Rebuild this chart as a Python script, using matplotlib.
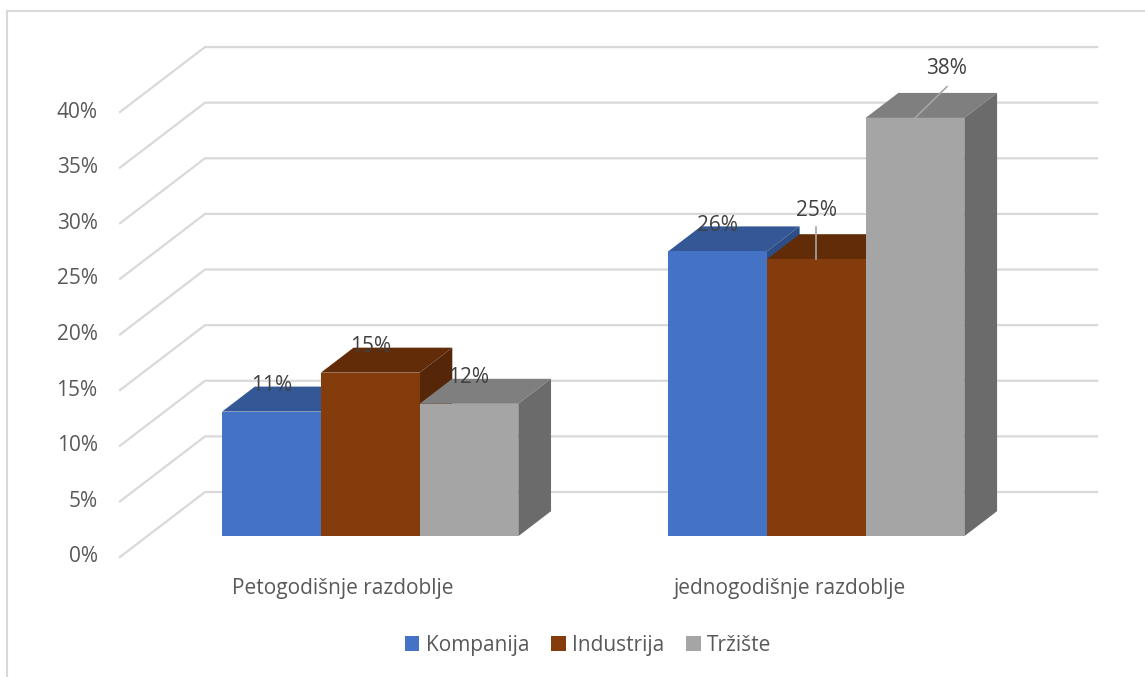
import matplotlib.pyplot as plt
from matplotlib.patches import Polygon, Patch
from matplotlib.lines import Line2D

plt.rcParams['font.family'] = ['Open Sans', 'DejaVu Sans']

# data
categories = ["Petogodišnje razdoblje", "jednogodišnje razdoblje"]
series = ["Kompanija", "Industrija", "Tržište"]
values = [
    [0.112, 0.256],   # Kompanija
    [0.147, 0.249],   # Industrija
    [0.119, 0.376],   # Tržište
]
y_ticks = [0.0, 0.05, 0.10, 0.15, 0.20, 0.25, 0.30, 0.35, 0.40]

# colours: front, top, side
front_col = ["#4472C4", "#843C0C", "#A5A5A5"]
top_col = ["#335895", "#622C08", "#7F7F7F"]
side_col = ["#2C4D86", "#552607", "#6B6B6B"]
grid_col = "#D9D9D9"
text_col = "#595959"
FS = 15

# oblique projection: full depth shift in data units
DX, DY = 0.1906, 0.0584
D0, D1 = 0.32, 0.705          # bar depth range (fraction of full depth)
GAP = 0.168                   # side gap inside a category
BW = (1 - 2 * GAP) / 3        # bar width


def proj(x, y, d):
    return (x + d * DX, y + d * DY)


fig = plt.figure(figsize=(11.45, 6.77), dpi=100)
ax = fig.add_axes([0, 0, 1, 1])
ax.set_xlim(-0.269, 2.298)
ax.set_ylim(-0.1079, 0.5007)
ax.axis("off")

# outer frame (left and top only visible)
fig.add_artist(Line2D([7 / 1145, 7 / 1145], [0, 1 - 11 / 677], color=grid_col, lw=1.5))
fig.add_artist(Line2D([7 / 1145, 1], [1 - 11 / 677, 1 - 11 / 677], color=grid_col, lw=1.5))

# gridlines: side wall diagonals + back wall horizontals
n_cat = len(categories)
for v in y_ticks:
    x0, y0 = proj(0, v, 0)
    x1, y1 = proj(0, v, 1)
    x2, y2 = proj(n_cat, v, 1)
    ax.plot([x0, x1, x2], [y0, y1, y2], color=grid_col, lw=1.6, zorder=1,
            solid_joinstyle="miter")
    ax.text(-0.05, v, f"{int(round(v * 100))}%", ha="right", va="center",
            fontsize=FS, color=text_col)

# bars
z = 2
for c in range(n_cat):
    for s in range(len(series)):
        v = values[s][c]
        xl = c + GAP + s * BW
        xr = xl + BW
        top = [proj(xl, v, D0), proj(xr, v, D0), proj(xr, v, D1), proj(xl, v, D1)]
        side = [proj(xr, 0, D0), proj(xr, 0, D1), proj(xr, v, D1), proj(xr, v, D0)]
        front = [proj(xl, 0, D0), proj(xr, 0, D0), proj(xr, v, D0), proj(xl, v, D0)]
        ax.add_patch(Polygon(top, closed=True, fc=top_col[s], ec="none", zorder=z))
        ax.add_patch(Polygon(side, closed=True, fc=side_col[s], ec="none", zorder=z))
        ax.add_patch(Polygon(front, closed=True, fc=front_col[s], ec="none", zorder=z))
        z += 1

# data labels
for c in range(n_cat):
    for s in range(len(series)):
        v = values[s][c]
        cx, cy = proj(c + GAP + (s + 0.5) * BW, v, D0)
        label = f"{int(round(v * 100))}%"
        if c == 1 and s == 1:
            ax.plot([cx, cx], [cy, cy + 0.0288], color="#A6A6A6", lw=1.2, zorder=20)
            ax.text(cx, cy + 0.044, label, ha="center", va="center",
                    fontsize=FS, color="#404040", zorder=21)
        elif c == 1 and s == 2:
            ax.plot([cx, cx + 0.0717], [cy, cy + 0.0281], color="#A6A6A6", lw=1.2, zorder=20)
            ax.text(cx + 0.0717, cy + 0.044, label, ha="center", va="center",
                    fontsize=FS, color="#404040", zorder=21)
        else:
            ax.text(cx, cy + 0.0235, label, ha="center", va="center",
                    fontsize=FS, color="#404040", zorder=21)

# category labels
for c, name in enumerate(categories):
    ax.text(c + 0.5, -0.028, name, ha="center", va="center", fontsize=FS, color=text_col)

# legend
handles = [Patch(facecolor=front_col[s], edgecolor="none") for s in range(len(series))]
fig.legend(handles, series, loc="center", bbox_to_anchor=(0.5136, 0.047), ncol=3,
           frameon=False, fontsize=FS, labelcolor=text_col, handlelength=0.7,
           handleheight=0.7, handletextpad=0.3, columnspacing=1.05)

fig.savefig("out.png", dpi=100)
